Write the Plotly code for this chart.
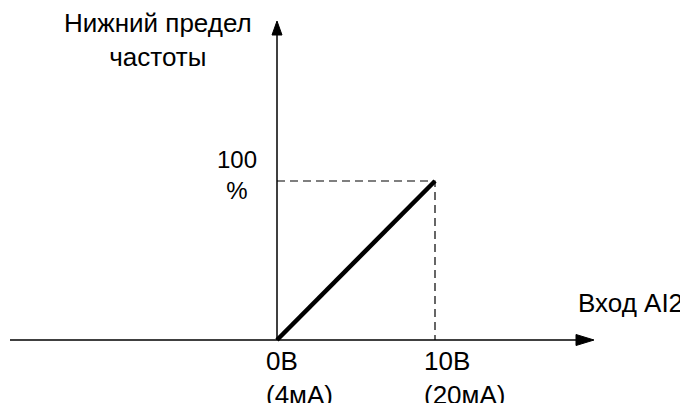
import plotly.graph_objects as go

# Data
x_volts = [0, 10]
y_percent = [0, 100]
x_tick_vals = [0, 10]
x_tick_labels = ["0В<br>(4мА)", "10В<br>(20мА)"]
y_tick_val = 100
y_tick_label = "100<br>%"
y_title = "Нижний предел<br>частоты"
x_title = "Вход AI2"

# The page body has an 8px margin; figure is sized to fill the rest of the window
OFF = 8
W, H = 688 - OFF, 403 - OFF


def fx(page_px):
    return page_px - OFF


# pixel anchors (page coordinates)
X0PX, X10PX, Y0PX, Y100PX = fx(277), fx(435), fx(340), fx(181)
sx = (X10PX - X0PX) / 10.0
sy = (Y0PX - Y100PX) / 100.0
x_range = [-X0PX / sx, (W - X0PX) / sx]
y_range = [-(H - Y0PX) / sy, Y0PX / sy]


def dx(px):
    return (px - X0PX) / sx


def dy(py):
    return (Y0PX - py) / sy


FONT = "Liberation Sans, Arial, sans-serif"

fig = go.Figure()

# dashed guides
fig.add_trace(go.Scatter(
    x=[x_volts[0], x_volts[1], x_volts[1]],
    y=[y_percent[1], y_percent[1], y_percent[0]],
    mode="lines", line=dict(color="black", width=1.2, dash="8px,5px"),
    hoverinfo="skip", showlegend=False))

# main line
fig.add_trace(go.Scatter(
    x=x_volts, y=y_percent, mode="lines",
    line=dict(color="black", width=4.5), showlegend=False))

# axes with arrowheads
xa_start, xa_tip = dx(fx(10)), dx(fx(594))
xa_base = dx(fx(594 - 18))
ya_tip = dy(fx(21))
ya_base = dy(fx(21 + 14))
hw_x = 5.5 / sy   # half-width of x-arrow in y data units
hw_y = 5.0 / sx   # half-width of y-arrow in x data units

shapes = [
    dict(type="line", xref="x", yref="y", x0=xa_start, y0=0, x1=xa_base, y1=0,
         line=dict(color="black", width=1.5)),
    dict(type="line", xref="x", yref="y", x0=0, y0=0, x1=0, y1=ya_base,
         line=dict(color="black", width=1.5)),
    dict(type="path", xref="x", yref="y",
         path=f"M {xa_tip},0 L {xa_base},{hw_x} L {xa_base},{-hw_x} Z",
         fillcolor="black", line=dict(color="black", width=1)),
    dict(type="path", xref="x", yref="y",
         path=f"M 0,{ya_tip} L {-hw_y},{ya_base} L {hw_y},{ya_base} Z",
         fillcolor="black", line=dict(color="black", width=1)),
]

annotations = []
# x tick labels
for v, t in zip(x_tick_vals, x_tick_labels):
    annotations.append(dict(x=v, y=0, xref="x", yref="y", text=t, showarrow=False,
                            xanchor="left", yanchor="top", align="left",
                            xshift=-13, yshift=-4,
                            font=dict(family=FONT, size=26, color="black")))
# y tick label
annotations.append(dict(x=0, y=y_tick_val, xref="x", yref="y", text=y_tick_label,
                        showarrow=False, xanchor="center", yanchor="middle",
                        xshift=-40, yshift=6, align="center",
                        font=dict(family=FONT, size=24, color="black")))
# titles
annotations.append(dict(x=fx(158) / W, y=1 - fx(40) / H, xref="paper", yref="paper",
                        text=y_title, showarrow=False, xanchor="center", yanchor="middle",
                        align="center", font=dict(family=FONT, size=26, color="black")))
annotations.append(dict(x=fx(576) / W, y=1 - fx(303) / H, xref="paper", yref="paper",
                        text=x_title, showarrow=False, xanchor="left", yanchor="middle",
                        font=dict(family=FONT, size=26, color="black")))

fig.update_layout(
    width=W, height=H, margin=dict(l=0, r=0, t=0, b=0),
    paper_bgcolor="white", plot_bgcolor="white",
    xaxis=dict(range=x_range, visible=False, fixedrange=True),
    yaxis=dict(range=y_range, visible=False, fixedrange=True),
    shapes=shapes, annotations=annotations, showlegend=False)

fig.write_html("out.html", config={"displayModeBar": False})
